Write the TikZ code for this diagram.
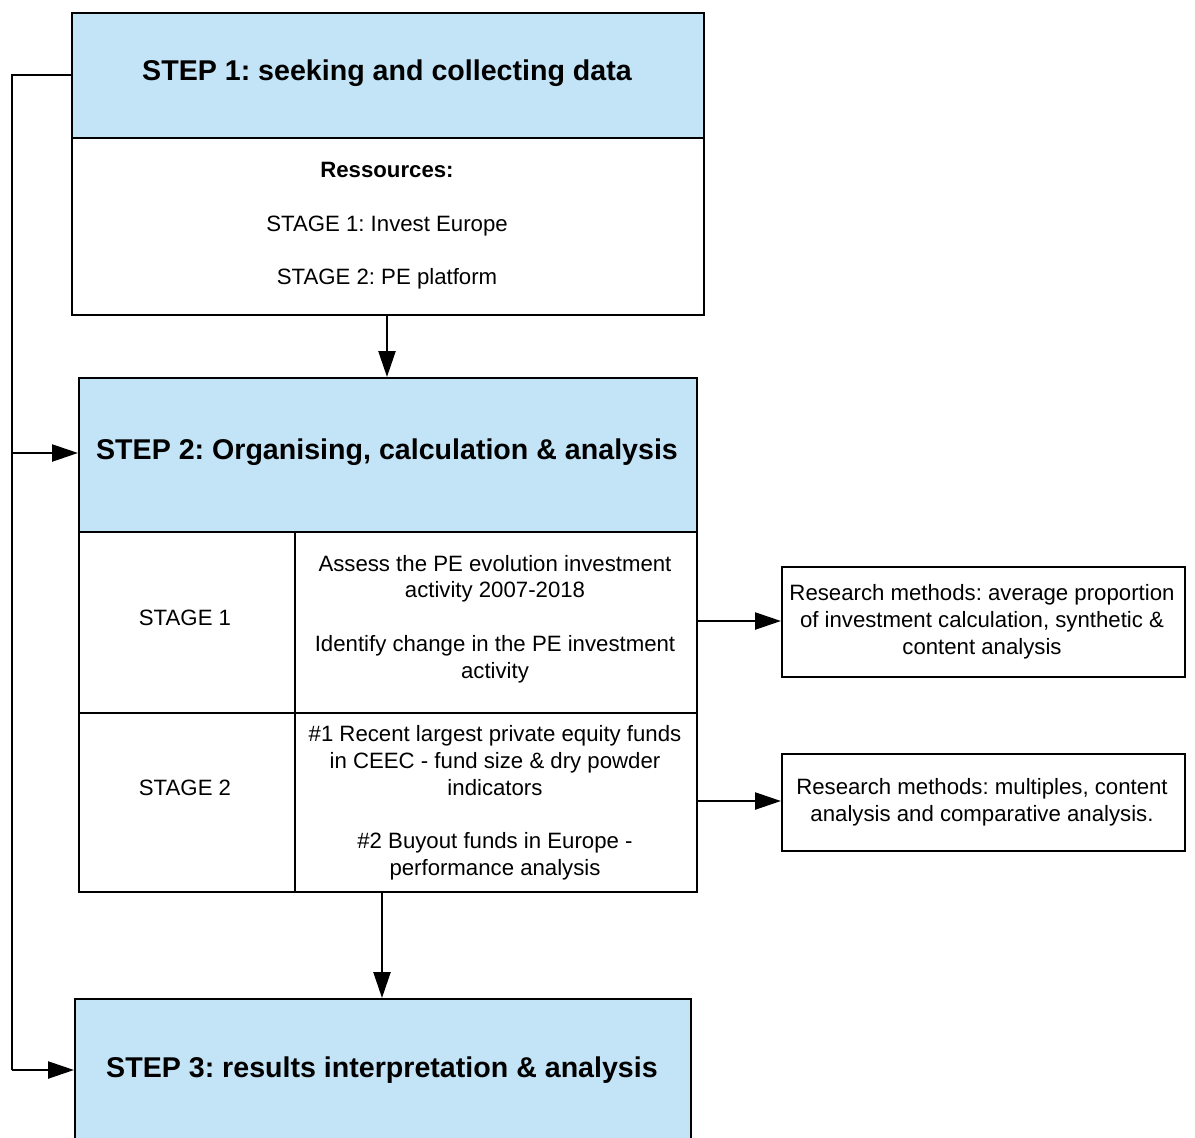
\documentclass[tikz,border=0pt]{standalone}
\usepackage{fontspec}
\setmainfont{Liberation Sans}
\usetikzlibrary{arrows.meta}
\frenchspacing
\definecolor{stepblue}{HTML}{C3E4F6}
\tikzset{
  x=1pt, y=-1pt,
  frame/.style={draw=black, line width=2.4pt, rectangle, anchor=north west, inner sep=0pt},
  header/.style={frame, fill=stepblue},
  cell/.style={frame},
  htext/.style={font=\fontsize{28.6}{34}\selectfont\bfseries},
  btext/.style={font=\fontsize{22.2}{26.8}\selectfont, align=center},
  conn/.style={line width=2.4pt, -{Triangle[length=26pt,width=17pt]}},
}
\begin{document}
\begin{tikzpicture}
\useasboundingbox (0,0) rectangle (1195,1138);
% STEP 1
\node[header, minimum width=632pt, minimum height=125pt] (s1) at (71,12) {};
\node[htext] (s1t) at (387,73) {STEP 1: seeking and collecting data};
\node[cell, minimum width=632pt, minimum height=177pt] (res) at (71,137) {};
\node[btext] (rest) at (387,226)
  {\textbf{Ressources:}\\[\baselineskip]STAGE 1: Invest Europe\\[\baselineskip]STAGE 2: PE platform};
% STEP 2
\node[header, minimum width=618pt, minimum height=154pt] (s2) at (78,377) {};
\node[htext] (s2t) at (387,452) {STEP 2: Organising, calculation \& analysis};
\node[cell, minimum width=216pt, minimum height=181pt] (st1) at (78,531) {};
\node[btext] (st1t) at (185,618) {STAGE 1};
\node[cell, minimum width=402pt, minimum height=181pt] (st1r) at (294,531) {};
\node[btext] (st1rt) at (495,619)
  {Assess the PE evolution investment\\activity 2007-2018\\[\baselineskip]Identify change in the PE investment\\activity};
\node[cell, minimum width=216pt, minimum height=179pt] (st2) at (78,712) {};
\node[btext] (st2t) at (185,788) {STAGE 2};
\node[cell, minimum width=402pt, minimum height=179pt] (st2r) at (294,712) {};
\node[btext] (st2rt) at (495,803)
  {\#1 Recent largest private equity funds\\in CEEC - fund size \& dry powder\\indicators\\[\baselineskip]\#2 Buyout funds in Europe -\\performance analysis};
% research boxes
\node[cell, minimum width=403pt, minimum height=110pt] (rm1) at (781,566) {};
\node[btext] (rm1t) at (982,622)
  {Research methods: average proportion\\of investment calculation, synthetic \&\\content analysis};
\node[cell, minimum width=403pt, minimum height=97pt] (rm2) at (781,753) {};
\node[btext] (rm2t) at (982,802)
  {Research methods: multiples, content\\analysis and comparative analysis.};
% STEP 3
\node[header, minimum width=616pt, minimum height=150pt] (s3) at (74,998) {};
\node[htext] (s3t) at (382,1070) {STEP 3: results interpretation \& analysis};
% connectors
\coordinate (a1) at (387,314);
\draw[conn] (res.south -| a1) -- (s2.north -| a1);
\coordinate (a2) at (382,891);
\draw[conn] (st2r.south -| a2) -- (s3.north -| a2);
\coordinate (r1) at (696,621);
\draw[conn] (r1) -- (rm1.west |- r1);
\coordinate (r2) at (696,801);
\draw[conn] (r2) -- (rm2.west |- r2);
\coordinate (l1) at (12,75);
\coordinate (l3) at (12,1070);
\draw[line width=2.4pt] (s1.west |- l1) -- (l1) -- (l3);
\draw[conn] (l3) -- (s3.west |- l3);
\coordinate (l2) at (12,453);
\draw[conn] (l2) -- (s2.west |- l2);
\end{tikzpicture}
\end{document}
